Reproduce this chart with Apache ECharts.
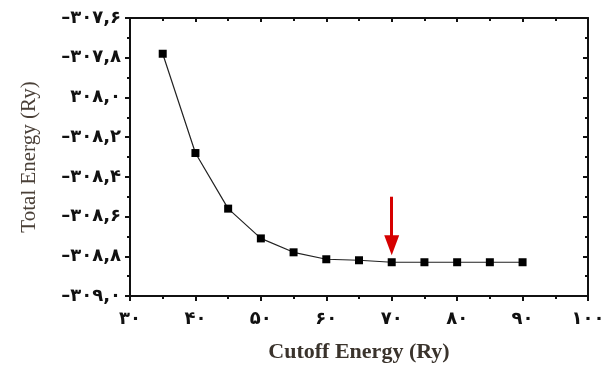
<!DOCTYPE html>
<html><head><meta charset="utf-8">
<script src="https://cdn.jsdelivr.net/npm/echarts@6/dist/echarts.min.js"></script>
<style>html,body{margin:0;padding:0;background:#fff}#c{width:610px;height:369px}</style>
</head><body><div id="c"></div>
<script>
const cutoff = [35, 40, 45, 50, 55, 60, 65, 70, 75, 80, 85, 90];
const energy = [-307.78, -308.28, -308.56, -308.71, -308.78, -308.815, -308.82, -308.83, -308.83, -308.83, -308.83, -308.83];
const xTickValues = [30, 40, 50, 60, 70, 80, 90, 100];
const xTickLabels = ['۳۰', '۴۰', '۵۰', '۶۰', '۷۰', '۸۰', '۹۰', '۱۰۰'];
const yTickValues = [-309.0, -308.8, -308.6, -308.4, -308.2, -308.0, -307.8, -307.6];
const yTickLabels = ['–۳۰۹,۰', '–۳۰۸,۸', '–۳۰۸,۶', '–۳۰۸,۴', '–۳۰۸,۲', '۳۰۸,۰', '–۳۰۷,۸', '–۳۰۷,۶'];
const arrowX = 70, arrowFrom = -308.5, arrowTo = -308.745;

function lookup(vals, labels, v) {
  for (let i = 0; i < vals.length; i++) if (Math.abs(vals[i] - v) < 1e-6) return labels[i];
  return '';
}
const axisLine = {show: true, lineStyle: {color: '#111', width: 2}};
const labelFont = {color: '#111', fontFamily: 'DejaVu Sans', fontWeight: 'bold', fontSize: 18};
const chart = echarts.init(document.getElementById('c'));
chart.setOption({
  animation: false,
  grid: {left: 130, right: 22, top: 18, bottom: 73, containLabel: false},
  xAxis: [{
    type: 'value', min: 30, max: 100, interval: 10, position: 'bottom',
    axisLine: axisLine,
    axisTick: {show: true, inside: false, length: 5, lineStyle: {color: '#111', width: 2}},
    minorTick: {show: true, splitNumber: 2, length: 3, lineStyle: {color: '#111', width: 2}},
    splitLine: {show: false},
    axisLabel: Object.assign({margin: 14, formatter: v => lookup(xTickValues, xTickLabels, v)}, labelFont),
    name: 'Cutoff Energy (Ry)', nameLocation: 'middle', nameGap: 45,
    nameTextStyle: {fontFamily: 'Liberation Serif', fontWeight: 'bold', fontSize: 22, color: '#3a332c'}
  }, {
    type: 'value', min: 30, max: 100, interval: 10, position: 'top',
    axisLine: axisLine,
    axisTick: {show: true, inside: true, length: 4, lineStyle: {color: '#111', width: 2}},
    minorTick: {show: true, splitNumber: 2, length: 3, lineStyle: {color: '#111', width: 2}},
    splitLine: {show: false}, axisLabel: {show: false}
  }],
  yAxis: [{
    type: 'value', min: -309.0, max: -307.6, interval: 0.2, position: 'left',
    axisLine: axisLine,
    axisTick: {show: true, inside: false, length: 5, lineStyle: {color: '#111', width: 2}},
    minorTick: {show: true, splitNumber: 2, length: 3, lineStyle: {color: '#111', width: 2}},
    splitLine: {show: false},
    axisLabel: Object.assign({margin: 9, formatter: v => lookup(yTickValues, yTickLabels, Math.round(v * 10) / 10)}, labelFont),
    name: 'Total Energy (Ry)', nameLocation: 'middle', nameGap: 90, nameRotate: 90,
    nameTextStyle: {fontFamily: 'Liberation Serif', fontSize: 21, color: '#4a4038'}
  }, {
    type: 'value', min: -309.0, max: -307.6, interval: 0.2, position: 'right',
    axisLine: axisLine,
    axisTick: {show: true, inside: true, length: 5, lineStyle: {color: '#111', width: 2}},
    minorTick: {show: true, splitNumber: 2, length: 3, lineStyle: {color: '#111', width: 2}},
    splitLine: {show: false}, axisLabel: {show: false}
  }],
  series: [{
    type: 'line',
    data: cutoff.map((x, i) => [x, energy[i]]),
    symbol: 'rect', symbolSize: 8,
    itemStyle: {color: '#000'},
    lineStyle: {color: '#222', width: 1.2},
    markLine: {
      silent: true, animation: false,
      symbol: ['none', 'triangle'], symbolSize: [15, 20],
      label: {show: false},
      lineStyle: {color: '#d60000', width: 3, type: 'solid'},
      data: [[{coord: [arrowX, arrowFrom]}, {coord: [arrowX, arrowTo]}]]
    }
  }]
});
</script></body></html>
